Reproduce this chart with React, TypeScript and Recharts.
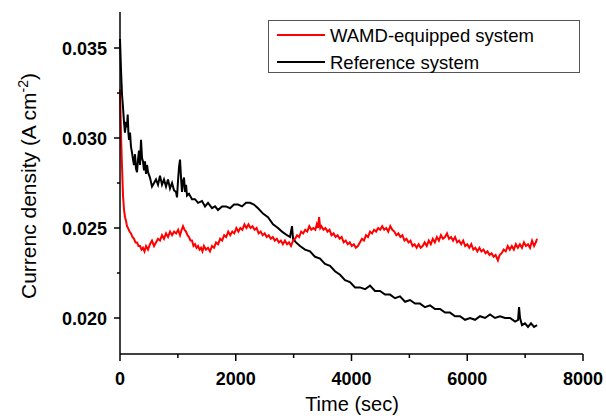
import React from 'react';

import { Legend, Line, LineChart, XAxis, YAxis } from 'recharts';

const FONT = 'Arial, "Liberation Sans", sans-serif';

// [time (sec), current density (A cm-2)]
const wamdSystem: [number, number][] = [
  [0, 0.0327], [10, 0.0313], [20, 0.0299], [35, 0.0284], [52, 0.0268], [70, 0.026],
  [87, 0.0256], [104, 0.0254], [121, 0.0251], [138, 0.025], [165, 0.0248], [190, 0.0247],
  [215, 0.0245], [242, 0.0244], [268, 0.0242], [294, 0.0242], [320, 0.024], [346, 0.024],
  [372, 0.0238], [397, 0.0239], [423, 0.0237], [450, 0.024], [484, 0.0238], [518, 0.0241],
  [553, 0.0243], [588, 0.024], [622, 0.0242], [657, 0.0244], [691, 0.0243], [726, 0.0246],
  [760, 0.0244], [795, 0.0247], [830, 0.0245], [865, 0.0248], [900, 0.0246], [935, 0.0248],
  [970, 0.0247], [1005, 0.0249], [1037, 0.0246], [1065, 0.0249], [1089, 0.0251], [1115, 0.0249],
  [1140, 0.0248], [1166, 0.0246], [1192, 0.0245], [1218, 0.0243], [1244, 0.0243], [1270, 0.024],
  [1296, 0.0241], [1322, 0.0239], [1348, 0.024], [1375, 0.0238], [1400, 0.0239], [1425, 0.0237],
  [1450, 0.024], [1485, 0.0238], [1521, 0.0239], [1555, 0.0237], [1590, 0.024], [1625, 0.0239],
  [1660, 0.0242], [1695, 0.0241], [1730, 0.0244], [1765, 0.0243], [1800, 0.0246], [1835, 0.0245],
  [1870, 0.0248], [1905, 0.0246], [1940, 0.0248], [1975, 0.0247], [2010, 0.025], [2045, 0.0248],
  [2080, 0.025], [2115, 0.0249], [2150, 0.0252], [2185, 0.025], [2220, 0.0252], [2255, 0.025],
  [2290, 0.0251], [2325, 0.0249], [2360, 0.025], [2395, 0.0247], [2430, 0.0248], [2465, 0.0246],
  [2500, 0.0247], [2535, 0.0245], [2570, 0.0246], [2605, 0.0244], [2640, 0.0245], [2675, 0.0243],
  [2710, 0.0244], [2745, 0.0242], [2780, 0.0243], [2815, 0.0241], [2850, 0.0243], [2885, 0.0241],
  [2920, 0.0242], [2955, 0.024], [2990, 0.0243], [3025, 0.0244], [3060, 0.0246], [3095, 0.0245],
  [3130, 0.0248], [3165, 0.0247], [3200, 0.0249], [3235, 0.0248], [3270, 0.0251], [3305, 0.0249],
  [3340, 0.025], [3375, 0.0249], [3400, 0.0252], [3420, 0.025], [3440, 0.0256], [3460, 0.025],
  [3480, 0.0251], [3515, 0.0249], [3550, 0.025], [3585, 0.0248], [3620, 0.0249], [3655, 0.0246],
  [3690, 0.0247], [3725, 0.0245], [3760, 0.0246], [3795, 0.0244], [3830, 0.0245], [3865, 0.0242],
  [3900, 0.0243], [3935, 0.0241], [3970, 0.0242], [4005, 0.024], [4040, 0.0241], [4075, 0.0239],
  [4110, 0.024], [4145, 0.0242], [4180, 0.0244], [4215, 0.0243], [4250, 0.0246], [4285, 0.0245],
  [4320, 0.0248], [4355, 0.0247], [4390, 0.0249], [4425, 0.0248], [4460, 0.025], [4495, 0.0249],
  [4530, 0.0251], [4565, 0.0249], [4600, 0.025], [4635, 0.0248], [4670, 0.0251], [4705, 0.0249],
  [4740, 0.0248], [4775, 0.0246], [4810, 0.0247], [4845, 0.0245], [4880, 0.0246], [4915, 0.0243],
  [4950, 0.0244], [4985, 0.0242], [5020, 0.0243], [5055, 0.024], [5090, 0.0241], [5125, 0.0239],
  [5160, 0.0241], [5195, 0.0239], [5230, 0.024], [5265, 0.0242], [5300, 0.024], [5335, 0.0243],
  [5370, 0.0241], [5405, 0.0244], [5440, 0.0242], [5475, 0.0245], [5510, 0.0243], [5545, 0.0246],
  [5580, 0.0244], [5615, 0.0245], [5650, 0.0247], [5685, 0.0244], [5720, 0.0245], [5755, 0.0243],
  [5790, 0.0245], [5825, 0.0242], [5860, 0.0243], [5895, 0.0241], [5930, 0.0243], [5965, 0.024],
  [6000, 0.0241], [6035, 0.0239], [6070, 0.0241], [6105, 0.0238], [6140, 0.0239], [6175, 0.0237],
  [6210, 0.0239], [6245, 0.0237], [6280, 0.0238], [6315, 0.0236], [6350, 0.0237], [6385, 0.0235],
  [6420, 0.0236], [6455, 0.0234], [6490, 0.0235], [6530, 0.0232], [6560, 0.0235], [6595, 0.0236],
  [6630, 0.0238], [6665, 0.0237], [6700, 0.024], [6735, 0.0238], [6770, 0.024], [6805, 0.0238],
  [6840, 0.0241], [6875, 0.0239], [6910, 0.0241], [6945, 0.0239], [6980, 0.0242], [7015, 0.024],
  [7050, 0.0241], [7085, 0.0239], [7120, 0.0243], [7155, 0.024], [7185, 0.0242], [7206, 0.0244],
];

const referenceSystem: [number, number][] = [
  [0, 0.0355], [17, 0.0338], [35, 0.0324], [52, 0.0317], [69, 0.0309], [86, 0.0303],
  [104, 0.0309], [121, 0.0306], [133, 0.0313], [145, 0.0303], [156, 0.0299], [173, 0.0303],
  [190, 0.0295], [207, 0.0292], [225, 0.0288], [242, 0.0285], [259, 0.0291], [276, 0.0283],
  [294, 0.0281], [311, 0.0288], [328, 0.0293], [346, 0.0285], [363, 0.0299], [380, 0.0289],
  [397, 0.0287], [415, 0.0282], [432, 0.0287], [449, 0.028], [467, 0.0285], [484, 0.0281],
  [518, 0.0278], [553, 0.0273], [588, 0.0275], [622, 0.0277], [657, 0.0274], [691, 0.0279],
  [726, 0.0274], [760, 0.0277], [795, 0.0273], [829, 0.0277], [864, 0.0272], [899, 0.0275],
  [933, 0.0271], [968, 0.027], [985, 0.0267], [1002, 0.0276], [1020, 0.0284], [1037, 0.0288],
  [1054, 0.0278], [1071, 0.027], [1089, 0.0276], [1106, 0.0278], [1123, 0.027], [1141, 0.0274],
  [1158, 0.0268], [1192, 0.0269], [1244, 0.0266], [1296, 0.0266], [1348, 0.0264], [1417, 0.0265],
  [1469, 0.0262], [1521, 0.0264], [1590, 0.0261], [1642, 0.0262], [1693, 0.026], [1763, 0.0262],
  [1832, 0.0262], [1901, 0.0261], [1970, 0.0263], [2039, 0.0263], [2108, 0.0262], [2177, 0.0264],
  [2246, 0.0264], [2315, 0.0263], [2385, 0.0261], [2471, 0.0258], [2557, 0.0256], [2644, 0.0252],
  [2730, 0.025], [2799, 0.0248], [2886, 0.0246], [2938, 0.0245], [2972, 0.0251], [2990, 0.0244],
  [3041, 0.0242], [3110, 0.024], [3197, 0.0238], [3283, 0.0237], [3370, 0.0234], [3456, 0.0233],
  [3542, 0.023], [3629, 0.0229], [3715, 0.0226], [3802, 0.0224], [3888, 0.0221], [3974, 0.022],
  [4061, 0.0217], [4147, 0.0217], [4234, 0.0216], [4320, 0.0218], [4406, 0.0215], [4493, 0.0215],
  [4579, 0.0213], [4666, 0.0213], [4752, 0.0211], [4838, 0.0212], [4925, 0.0209], [5011, 0.021],
  [5098, 0.0208], [5184, 0.0208], [5270, 0.0206], [5357, 0.0207], [5443, 0.0205], [5530, 0.0205],
  [5616, 0.0203], [5702, 0.0203], [5789, 0.0201], [5875, 0.0201], [5962, 0.0199], [6048, 0.02],
  [6134, 0.0199], [6221, 0.0201], [6307, 0.02], [6394, 0.0202], [6480, 0.02], [6566, 0.0201],
  [6653, 0.02], [6739, 0.02], [6826, 0.0198], [6878, 0.0199], [6895, 0.0206], [6912, 0.02],
  [6946, 0.0196], [6998, 0.0197], [7050, 0.0195], [7102, 0.0197], [7154, 0.0195], [7206, 0.0196],
];

const xTicks = [0, 1000, 2000, 3000, 4000, 5000, 6000, 7000, 8000];
const xMajor = [0, 2000, 4000, 6000, 8000];
const yTicks = [0.02, 0.0225, 0.025, 0.0275, 0.03, 0.0325, 0.035];
const yMajor = [0.02, 0.025, 0.03, 0.035];

const toPoints = (rows: [number, number][]) => rows.map(([t, v]) => ({ t, v }));

const isMajor = (list: number[], v: number) =>
  list.some((m) => Math.abs(m - v) < 1e-9);

const XTick = (props: any) => {
  const { x, y, payload } = props;
  const major = isMajor(xMajor, payload.value);
  return (
    <g>
      <line x1={x} y1={y} x2={x} y2={y + (major ? 7 : 4)} stroke='#000' strokeWidth={1.5} />
      {major && (
        <text x={x} y={y + 31} textAnchor='middle' fontFamily={FONT} fontSize={18} fontWeight='bold' fill='#000'>
          {payload.value}
        </text>
      )}
    </g>
  );
};

const YTick = (props: any) => {
  const { x, y, payload } = props;
  const major = isMajor(yMajor, payload.value);
  return (
    <g>
      <line x1={x} y1={y} x2={x - (major ? 6 : 3)} y2={y} stroke='#000' strokeWidth={1.5} />
      {major && (
        <text x={x - 13} y={y + 6.5} textAnchor='end' fontFamily={FONT} fontSize={18} fontWeight='bold' fill='#000'>
          {payload.value.toFixed(3)}
        </text>
      )}
    </g>
  );
};

const XTitle = () => (
  <text x={352} y={411} textAnchor='middle' fontFamily={FONT} fontSize={20} fill='#000'>
    Time (sec)
  </text>
);

const YTitle = () => (
  <text
    x={36}
    y={186}
    transform='rotate(-90 36 186)'
    textAnchor='middle'
    fontFamily={FONT}
    fontSize={21}
    fill='#000'
  >
    Currenc density (A cm
    <tspan fontSize={14} dy={-8}>-2</tspan>
    <tspan dy={8}>)</tspan>
  </text>
);

const LegendBox = () => (
  <svg width={312} height={53} style={{ display: 'block' }}>
    <rect x={0.5} y={0.5} width={311} height={52} fill='#fff' stroke='#555' strokeWidth={1} />
    <line x1={9} y1={15} x2={57} y2={15} stroke='#ff0000' strokeWidth={2} />
    <text x={62} y={22} fontFamily={FONT} fontSize={18.5} fill='#000'>
      WAMD-equipped system
    </text>
    <line x1={9} y1={42} x2={57} y2={42} stroke='#000' strokeWidth={2} />
    <text x={62} y={49} fontFamily={FONT} fontSize={18.5} fill='#000'>
      Reference system
    </text>
  </svg>
);

const App = (): JSX.Element => {
  return (
    <div style={{ position: 'fixed', left: 0, top: 0, background: '#fff' }}>
      <LineChart width={606} height={418} margin={{ top: 12, right: 23, left: 0, bottom: 0 }}>
        <XAxis
          dataKey='t'
          type='number'
          domain={[0, 8000]}
          ticks={xTicks}
          interval={0}
          height={64}
          tickSize={0}
          tickMargin={0}
          tickLine={false}
          axisLine={{ stroke: '#000', strokeWidth: 1.5 }}
          tick={<XTick />}
          label={<XTitle />}
        />
        <YAxis
          type='number'
          domain={[0.018, 0.037]}
          allowDataOverflow
          ticks={yTicks}
          interval={0}
          width={120}
          tickSize={0}
          tickMargin={0}
          tickLine={false}
          axisLine={{ stroke: '#000', strokeWidth: 1.5 }}
          tick={<YTick />}
          label={<YTitle />}
        />
        <Legend
          layout='vertical'
          align='center'
          verticalAlign='middle'
          content={<LegendBox />}
          wrapperStyle={{ left: 268, top: 20, width: 312, height: 53 }}
        />
        <Line
          data={toPoints(referenceSystem)}
          dataKey='v'
          name='Reference system'
          stroke='#000'
          strokeWidth={2}
          dot={false}
          isAnimationActive={false}
        />
        <Line
          data={toPoints(wamdSystem)}
          dataKey='v'
          name='WAMD-equipped system'
          stroke='#ff0000'
          strokeWidth={2}
          dot={false}
          isAnimationActive={false}
        />
      </LineChart>
    </div>
  );
};

export default App;
